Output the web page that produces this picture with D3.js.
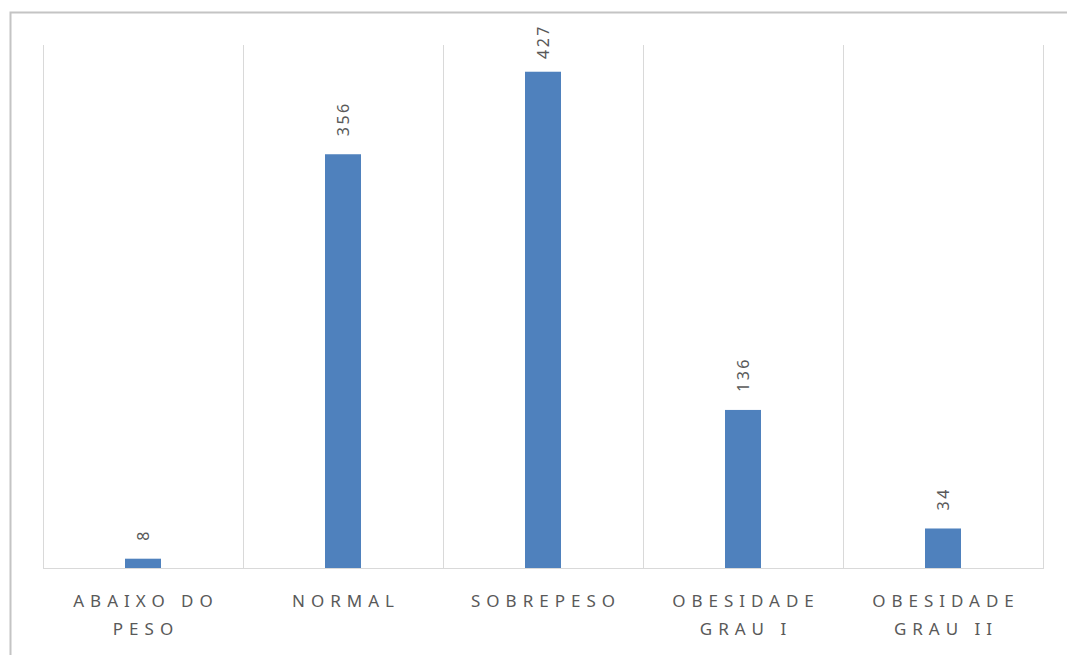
<!DOCTYPE html>
<html>
<head>
<meta charset="utf-8">
<script src="https://cdn.jsdelivr.net/npm/d3@7/dist/d3.min.js"></script>
<style>
  html, body { margin: 0; padding: 0; background: #ffffff; }
  svg { display: block; }
</style>
</head>
<body>
<svg id="chart" width="1067" height="655"></svg>
<script>
// Categories (two-line labels) and counts
const categories = ["ABAIXO DO PESO", "NORMAL", "SOBREPESO", "OBESIDADE GRAU I", "OBESIDADE GRAU II"];
const labelLines = [["ABAIXO DO", "PESO"], ["NORMAL"], ["SOBREPESO"], ["OBESIDADE", "GRAU I"], ["OBESIDADE", "GRAU II"]];
const values = [8, 356, 427, 136, 34];
const yDomain = [0, 450];

const W = 1067, H = 655;
const plot = { left: 43, right: 1043, top: 45, bottom: 568 };
const textColor = "#595959";
const gridColor = "#d9d9d9";
const barColor = "#4f81bd";
const fontFamily = "'Noto Sans', 'Open Sans', sans-serif";

const svg = d3.select("#chart");

// outer chart frame
svg.append("rect")
  .attr("x", 10.5).attr("y", 12.5)
  .attr("width", W + 20).attr("height", H + 20)
  .attr("fill", "#ffffff")
  .attr("stroke", "#c4c4c4")
  .attr("stroke-width", 2);

const x = d3.scaleBand()
  .domain(categories)
  .range([plot.left, plot.right])
  .paddingInner(0.82)
  .paddingOuter(0.41);

const y = d3.scaleLinear().domain(yDomain).range([plot.bottom, plot.top]);

// category boundaries for the vertical gridlines
const step = x.step();
const boundaries = d3.range(categories.length + 1).map(i => plot.left + i * step);

svg.append("g")
  .selectAll("line")
  .data(boundaries)
  .join("line")
  .attr("x1", d => Math.round(d) + 0.5).attr("x2", d => Math.round(d) + 0.5)
  .attr("y1", plot.top).attr("y2", plot.bottom)
  .attr("stroke", gridColor).attr("stroke-width", 1);

// baseline
svg.append("line")
  .attr("x1", plot.left).attr("x2", plot.right + 1)
  .attr("y1", plot.bottom + 0.5).attr("y2", plot.bottom + 0.5)
  .attr("stroke", gridColor).attr("stroke-width", 1);

// bars
svg.append("g")
  .selectAll("rect")
  .data(values)
  .join("rect")
  .attr("x", (d, i) => x(categories[i]))
  .attr("width", x.bandwidth())
  .attr("y", d => y(d))
  .attr("height", d => y(0) - y(d))
  .attr("fill", barColor);

// rotated value labels above the bars
const labelGap = 18;
const labelTopLimit = 24;
const labels = svg.append("g")
  .selectAll("text")
  .data(values)
  .join("text")
  .attr("font-family", fontFamily)
  .attr("font-size", 16)
  .attr("letter-spacing", 2.5)
  .attr("fill", textColor)
  .attr("text-anchor", "start")
  .attr("dy", "0.36em")
  .text(d => d);

labels.each(function(d, i) {
  const len = this.getComputedTextLength();
  const cx = x(categories[i]) + x.bandwidth() / 2;
  let start = y(d) - labelGap;
  if (start - len < labelTopLimit) start = labelTopLimit + len;
  d3.select(this).attr("transform", `translate(${cx},${start}) rotate(-90)`);
});

// category labels, wide-spaced, on up to two lines
const catSpacing = 6;
const catG = svg.append("g")
  .attr("font-family", fontFamily)
  .attr("font-size", 17)
  .attr("fill", textColor)
  .attr("letter-spacing", catSpacing)
  .attr("text-anchor", "middle");

labelLines.forEach((lines, i) => {
  const cx = x(categories[i]) + x.bandwidth() / 2 + catSpacing / 2;
  lines.forEach((line, j) => {
    catG.append("text")
      .attr("x", cx)
      .attr("y", 607 + j * 28)
      .text(line);
  });
});
</script>
</body>
</html>
